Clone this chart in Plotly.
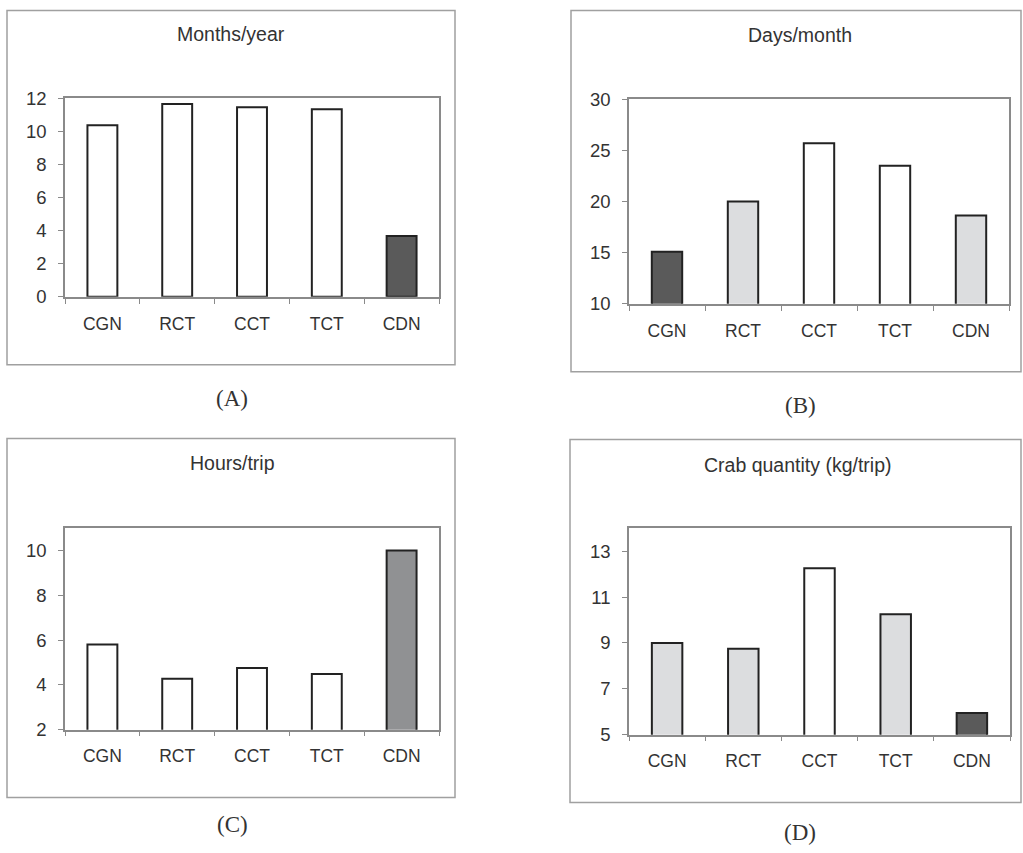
import plotly.graph_objects as go

W, H = 1023, 853

categories = ["CGN", "RCT", "CCT", "TCT", "CDN"]

months_per_year = [10.37, 11.66, 11.46, 11.34, 3.68]
days_per_month = [15.1, 20.0, 25.7, 23.5, 18.65]
hours_per_trip = [5.81, 4.28, 4.76, 4.49, 10.0]
crab_kg_per_trip = [9.0, 8.75, 12.25, 10.25, 5.95]

titles = ["Months/year", "Days/month", "Hours/trip", "Crab quantity (kg/trip)"]
captions = ["(A)", "(B)", "(C)", "(D)"]

WHITE = "#ffffff"
LIGHT = "#dcdddf"
DARK = "#5a5a5a"
MID = "#909193"

colors_a = [WHITE, WHITE, WHITE, WHITE, DARK]
colors_b = [DARK, LIGHT, WHITE, WHITE, LIGHT]
colors_c = [WHITE, WHITE, WHITE, WHITE, MID]
colors_d = [LIGHT, LIGHT, WHITE, LIGHT, DARK]

yranges = [[0, 12], [10, 30], [2, 11], [5, 14]]
ytickvals = [[0, 2, 4, 6, 8, 10, 12], [10, 15, 20, 25, 30], [2, 4, 6, 8, 10], [5, 7, 9, 11, 13]]

# pixel layout (left, right, top, bottom) of plot areas
plot_px = [(65, 439, 97, 296), (629, 1009, 98, 303), (65, 439, 528, 730), (629, 1010, 528, 735)]
box_px = [(7, 455, 9, 364), (571, 1021, 9, 371), (7, 455, 438, 798), (570, 1021, 439, 803)]
title_px = [(231, 32), (800, 33), (232, 463), (798, 465)]
caption_px = [(232, 398), (800, 405), (232, 825), (800, 833)]

values = [months_per_year, days_per_month, hours_per_trip, crab_kg_per_trip]
colors = [colors_a, colors_b, colors_c, colors_d]

VSCALE = 0.978  # observed vertical compression of the rendered page

def fx(px):
    return px / W

def fy(py):
    py = H / 2 + (py - H / 2) / VSCALE
    return 1 - py / H

fig = go.Figure()
TEXT = "#333333"
AXIS = "#8a8a8a"
FONT = "Liberation Sans, Arial, sans-serif"

for i in range(4):
    sfx = "" if i == 0 else str(i + 1)
    fig.add_trace(go.Bar(
        x=categories, y=values[i],
        marker=dict(color=colors[i], line=dict(color="#222222", width=2)),
        width=0.4,
        xaxis="x" + sfx, yaxis="y" + sfx,
        showlegend=False,
    ))
    l, r, t, b = plot_px[i]
    fig.update_layout(**{
        "xaxis" + sfx: dict(
            domain=[fx(l), fx(r)], anchor="y" + sfx,
            showline=True, linecolor=AXIS, linewidth=1.5, mirror=True,
            ticks="outside", tickson="boundaries", ticklen=5, tickcolor=AXIS,
            showgrid=False, zeroline=False,
            tickfont=dict(family=FONT, size=17.5, color=TEXT),
            ticklabelstandoff=10,
            fixedrange=True,
        ),
        "yaxis" + sfx: dict(
            domain=[fy(b), fy(t)], anchor="x" + sfx,
            range=yranges[i], tickvals=ytickvals[i],
            showline=True, linecolor=AXIS, linewidth=1.5, mirror=True,
            ticks="outside", ticklen=5, tickcolor=AXIS,
            showgrid=False, zeroline=False,
            tickfont=dict(family=FONT, size=18.5, color=TEXT),
            ticklabelstandoff=8,
            fixedrange=True,
        ),
    })
    bl, br, bt, bb = box_px[i]
    fig.add_shape(type="rect", xref="paper", yref="paper",
                  x0=fx(bl), x1=fx(br), y0=fy(bb), y1=fy(bt),
                  line=dict(color="#a0a0a0", width=1.5), layer="below")
    tx, ty = title_px[i]
    fig.add_annotation(x=fx(tx), y=fy(ty), xref="paper", yref="paper",
                       text=titles[i], showarrow=False, xanchor="center", yanchor="middle",
                       font=dict(family=FONT, size=19.5, color=TEXT))
    cx, cy = caption_px[i]
    fig.add_annotation(x=fx(cx), y=fy(cy), xref="paper", yref="paper",
                       text=captions[i], showarrow=False, xanchor="center", yanchor="middle",
                       font=dict(family="Liberation Serif, Times New Roman, serif", size=23, color=TEXT))

fig.update_layout(
    width=W, height=H,
    margin=dict(l=0, r=0, t=0, b=0),
    paper_bgcolor="white", plot_bgcolor="white",
    bargap=0.6,
)

fig.write_html("out.html", config={"displayModeBar": False},
               post_script="document.body.style.margin='0';document.body.style.overflow='hidden';")
